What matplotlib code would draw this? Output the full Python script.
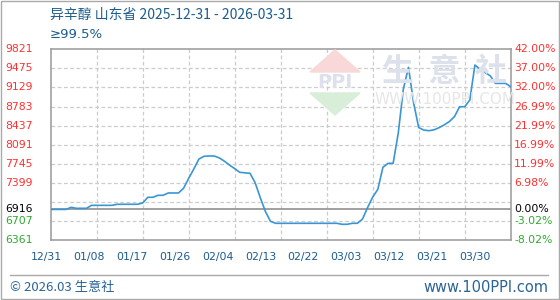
import numpy as np
import pandas as pd
import matplotlib
matplotlib.use('Agg')
import matplotlib.pyplot as plt
from matplotlib.patches import Polygon, Rectangle
from matplotlib.lines import Line2D
import matplotlib.transforms as mtransforms

plt.rcParams['font.family'] = ['Noto Sans CJK SC', 'DejaVu Sans']

# daily price, 2025-12-31 .. 2026-03-31 (yuan/ton)
dates = pd.date_range('2025-12-31', '2026-03-31', freq='D')
prices = [6916, 6916, 6916, 6916, 6954, 6936, 6936, 6936, 6990, 6990,
          6990, 6990, 6990, 7009, 7009, 7009, 7009, 7009, 7032, 7136,
          7136, 7172, 7172, 7214, 7214, 7214, 7300, 7480, 7650, 7830,
          7880, 7885, 7885, 7850, 7790, 7720, 7655, 7589, 7580, 7571,
          7400, 7130, 6880, 6700, 6664, 6664, 6664, 6664, 6664, 6664,
          6664, 6664, 6664, 6664, 6664, 6664, 6664, 6646, 6646, 6664,
          6664, 6740, 6950, 7140, 7280, 7680, 7752, 7752, 8300, 9100,
          9494, 8850, 8400, 8356, 8344, 8360, 8400, 8450, 8510, 8600,
          8779, 8779, 8900, 9535, 9460, 9400, 9340, 9203, 9203, 9203,
          9143]

base = 6916
ymin, ymax, ystep = 6361, 9821, 346
ytick_vals = [9821, 9475, 9129, 8783, 8437, 8091, 7745, 7399, 6916, 6707, 6361]
pct_labels = ['42.00%', '37.00%', '32.00%', '26.99%', '21.99%', '16.99%',
              '11.99%', '6.98%', '0.00%', '-3.02%', '-8.02%']
xlabels = ['12/31', '01/08', '01/17', '01/26', '02/04', '02/13',
           '02/22', '03/03', '03/12', '03/21', '03/30']

days = (dates - dates[0]).days.values

fig = plt.figure(figsize=(5.6, 3.0), dpi=100)
ax = fig.add_axes([50.7 / 560, 0.2, 460 / 560, 190.7 / 300])
ax.set_xlim(0, 90)
ax.set_ylim(ymin, ymax)

# grid
for gv in np.arange(ymin + ystep, ymax - 1, ystep):
    ax.axhline(gv, color='#cccccc', lw=0.9, ls=(0, (3, 2)), zorder=1)
for gx in np.arange(9, 90, 9):
    ax.axvline(gx, color='#cccccc', lw=0.9, ls=(0, (3, 2)), zorder=1)
ax.axhline(base, color='#999999', lw=1.3, zorder=2)

ax.plot(days, prices, color='#3a96d3', lw=1.2, zorder=3)

for s in ax.spines.values():
    s.set_color('#999999')
    s.set_linewidth(1.1)
ax.set_xticks([])
ax.set_yticks([])

# y labels left (price) and right (percentage vs base)
trl = mtransforms.blended_transform_factory(fig.transFigure, ax.transData)
for v, pl in zip(ytick_vals, pct_labels):
    if v > base:
        c = '#ff3030'
    elif v < base:
        c = '#2eaa2e'
    else:
        c = '#000000'
    ax.text(5 / 560, v, '%d' % v, transform=trl, color=c, fontsize=7.8,
            ha='left', va='center', family='DejaVu Sans')
    ax.text(514 / 560, v, pl, transform=trl, color=c, fontsize=7.8,
            ha='left', va='center', family='DejaVu Sans')

# x labels
xpos = np.linspace(-0.92, 83.0, len(xlabels))
trx = mtransforms.blended_transform_factory(ax.transData, fig.transFigure)
for p, t in zip(xpos, xlabels):
    ax.text(p, 1 - 257 / 300, t, transform=trx, color='#1b5a8c', fontsize=7.8,
            ha='center', va='center', family='DejaVu Sans')

# title
fig.text(50 / 560, 1 - 15 / 300, '异辛醇 山东省 2025-12-31 - 2026-03-31',
         color='#1c5d8e', fontsize=10, ha='left', va='center')
fig.text(50 / 560, 1 - 34 / 300, '≥99.5%', color='#1c5d8e', fontsize=9.5,
         ha='left', va='center', family='DejaVu Sans')

# watermark
fig.text(445 / 560, 1 - 72 / 300, '生  意  社', color='#dde1ec', fontsize=23,
         ha='center', va='center', weight='bold', zorder=0)
fig.text(445 / 560, 1 - 100 / 300, 'WWW.100PPI.COM', color='#e6e6e6',
         fontsize=11, ha='center', va='center', family='DejaVu Sans', zorder=0)
W, H = 560.0, 300.0
tri1 = Polygon([(310 / W, 1 - 72 / H), (360 / W, 1 - 72 / H), (335 / W, 1 - 50 / H)],
               closed=True, transform=fig.transFigure, color='#f8d8d8', zorder=0)
tri2 = Polygon([(310 / W, 1 - 93 / H), (360 / W, 1 - 93 / H), (335 / W, 1 - 115 / H)],
               closed=True, transform=fig.transFigure, color='#d8eed8', zorder=0)
fig.patches.extend([tri1, tri2])
fig.text(335 / 560, 1 - 83 / 300, 'PPI', color='#dde1ec', fontsize=14,
         ha='center', va='center', weight='bold', family='DejaVu Sans', zorder=0)

# footer
fig.add_artist(Line2D([10 / W, 548 / W], [1 - 275 / H, 1 - 275 / H],
                      transform=fig.transFigure, color='#aaaaaa', lw=1))
fig.text(10 / 560, 1 - 287 / 300, '© 2026.03 生意社', color='#2a6496',
         fontsize=9.5, ha='left', va='center')
fig.text(548 / 560, 1 - 287 / 300, 'www.100PPI.com', color='#2a6496',
         fontsize=10.5, ha='right', va='center', family='DejaVu Sans')
fig.patches.append(Rectangle((0.001, 0.002), 0.997, 0.996, transform=fig.transFigure,
                             fill=False, ec='#aaaaaa', lw=1))

fig.savefig('out.png', dpi=100)
